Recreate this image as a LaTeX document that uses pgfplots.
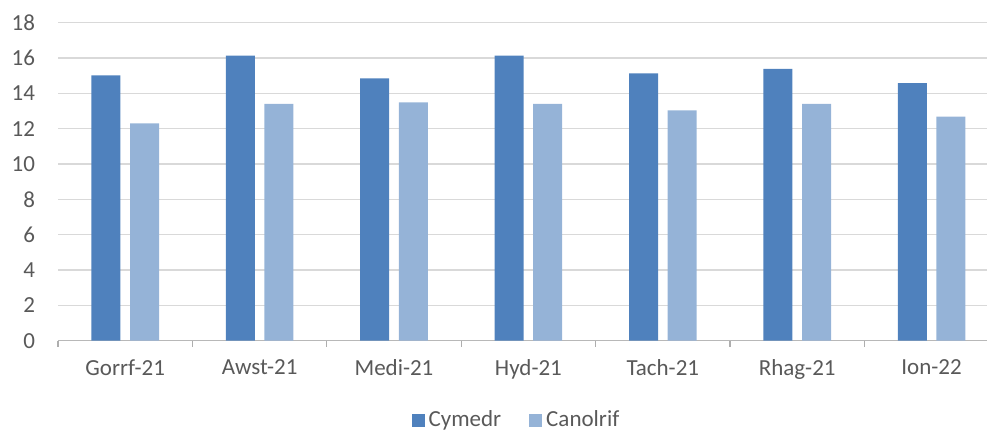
\documentclass[border=0pt]{standalone}
\usepackage{fontspec}
\setmainfont{Carlito}
\usepackage{pgfplots}
\pgfplotsset{compat=1.18}
\definecolor{cymedr}{HTML}{4F81BD}
\definecolor{canolrif}{HTML}{95B3D7}
\definecolor{txt}{HTML}{595959}
\definecolor{gridc}{HTML}{D9D9D9}
\begin{document}
\begin{tikzpicture}
\useasboundingbox (-29pt,-45.65pt) rectangle (464.5pt,170.35pt);
\begin{axis}[
  width=470.4pt, height=159pt, scale only axis,
  ybar=4.8pt, bar width=14.5pt,
  xmin=-0.5, xmax=6.5, ymin=0, ymax=18,
  ytick={0,2,...,18},
  xtick={0,...,6},
  xticklabels={Gorrf-21,Awst-21,Medi-21,Hyd-21,Tach-21,Rhag-21,Ion-22},
  minor xtick={-0.5,0.5,...,6.5},
  tick align=outside,
  major tick length=0pt, minor tick length=3pt,
  minor x tick style={gridc!80!black, line width=0.6pt},
  axis x line*=bottom, axis y line*=left,
  x axis line style={gridc!85!black, line width=0.6pt, -},
  y axis line style={draw=none},
  ymajorgrids, grid style={gridc, line width=0.6pt},
  font=\fontsize{11.5}{13}\selectfont,
  ticklabel style={txt},
  /pgf/number format/assume math mode=true,
  yticklabel style={xshift=-8pt},
  xticklabel style={yshift=-6pt},
  legend style={at={(0.4884,-0.25)}, anchor=center, draw=none, fill=none,
    legend columns=-1, text=txt, font=\fontsize{11.5}{13}\selectfont,
    /tikz/every even column/.append style={column sep=12pt}},
  legend image code/.code={\fill[#1] (0pt,-3.25pt) rectangle (6.5pt,3.25pt);},
]
\addplot[fill=cymedr, draw=none] coordinates {(0,15.02) (1,16.13) (2,14.85) (3,16.13) (4,15.13) (5,15.39) (6,14.58)};
\addplot[fill=canolrif, draw=none] coordinates {(0,12.30) (1,13.40) (2,13.49) (3,13.40) (4,13.04) (5,13.40) (6,12.68)};
\legend{Cymedr,Canolrif}
\end{axis}
\end{tikzpicture}
\end{document}
